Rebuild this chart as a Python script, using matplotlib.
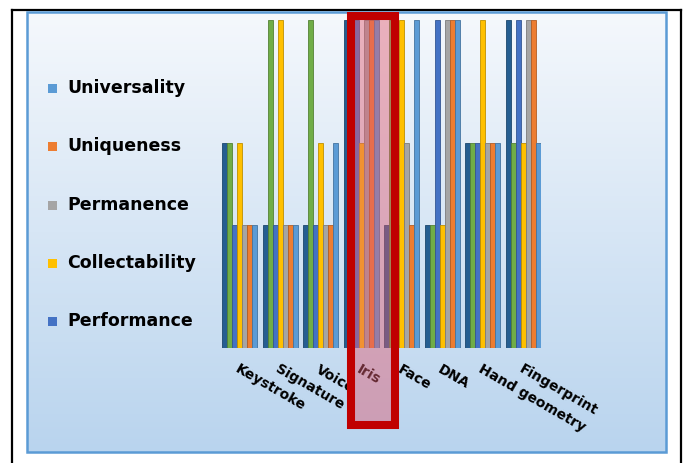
import matplotlib.pyplot as plt
import matplotlib.colors as mcolors
from matplotlib.patches import Rectangle
import numpy as np

W, H = 686, 463

categories = ["Keystroke", "Signature", "Voice", "Iris", "Face", "DNA",
              "Hand geometry", "Fingerprint"]

# rating levels: L / M / H
L, M, Hi = 3, 5, 8

# series in the order they sit inside each cluster (left to right)
series_names = ["Circumvention", "Acceptability", "Performance", "Collectability",
                "Permanence", "Uniqueness", "Universality"]
series_colors = ["#255E91", "#70AD47", "#4472C4", "#FFC000",
                 "#A5A5A5", "#ED7D31", "#5B9BD5"]

circumvention = [M, L, L, Hi, L, L, M, Hi]
acceptability = [M, Hi, Hi, L, Hi, L, M, M]
performance = [L, L, L, Hi, L, Hi, M, Hi]
collectability = [M, Hi, M, M, Hi, L, Hi, M]
permanence = [L, L, L, Hi, M, Hi, M, Hi]
uniqueness = [L, L, L, Hi, L, Hi, M, Hi]
universality = [L, L, M, Hi, Hi, Hi, M, M]

series_values = [circumvention, acceptability, performance, collectability,
                 permanence, uniqueness, universality]

# only the first five make it into the legend
legend_names = ["Universality", "Uniqueness", "Permanence", "Collectability", "Performance"]
legend_colors = ["#5B9BD5", "#ED7D31", "#A5A5A5", "#FFC000", "#4472C4"]

FONT = ["Liberation Sans Narrow", "DejaVu Sans"]


def fx(x):
    return x / W


def fy(y):
    return 1 - y / H


fig = plt.figure(figsize=(W / 100, H / 100), dpi=100)
fig.patch.set_facecolor("white")

# gradient background of the chart area
bg = fig.add_axes([fx(27), fy(452), fx(666) - fx(27), fy(12) - fy(452)])
top = np.array(mcolors.to_rgb("#F5F8FC"))
bot = np.array(mcolors.to_rgb("#B9D4EE"))
t = np.linspace(0, 1, 256)[:, None, None]
grad = top * (1 - t) + bot * t
bg.imshow(grad, aspect="auto", extent=[0, 1, 0, 1])
bg.set_axis_off()

# chart frame
fig.patches.append(Rectangle((fx(27), fy(452)), fx(666) - fx(27), fy(12) - fy(452),
                             transform=fig.transFigure, fill=False,
                             edgecolor="#5B9BD5", linewidth=1.8, zorder=5))

# bars
ax = fig.add_axes([fx(222), fy(348), fx(541) - fx(222), fy(20) - fy(348)])
ax.patch.set_alpha(0)
n = len(series_names)
bw = 0.125
x = np.arange(len(categories))
for i, (vals, col) in enumerate(zip(series_values, series_colors)):
    edge = np.array(mcolors.to_rgb(col)) * 0.75
    ax.bar(x - (n - 1) * bw / 2 + i * bw, vals, width=bw, color=col,
           edgecolor=edge, linewidth=0.6)
ax.set_xlim(-n * bw / 2, len(categories) - 1 + n * bw / 2)
ax.set_ylim(0, 8)
ax.set_axis_off()

# category labels, slanted
for xi, name in zip(x, categories):
    ax.text(xi, -0.35, name, transform=ax.transData,
            rotation=-30, rotation_mode="anchor", ha="left", va="top",
            fontsize=10, fontweight="bold", family=FONT,
            color="black", clip_on=False)

# legend
for k, (name, col) in enumerate(zip(legend_names, legend_colors)):
    yc = 88 + k * 58.3
    fig.patches.append(Rectangle((fx(48), fy(yc + 5)), fx(9), 9 / H,
                                 transform=fig.transFigure, facecolor=col,
                                 edgecolor="none"))
    fig.text(fx(67), fy(yc), name, ha="left", va="center", fontsize=12.5,
             fontweight="bold", family=FONT, color="black")

# highlight box over one category
fig.patches.append(Rectangle((fx(351), fy(425)), fx(395) - fx(351), fy(16) - fy(425),
                             transform=fig.transFigure, facecolor="#E05A70",
                             alpha=0.45, edgecolor="none", zorder=10))
fig.patches.append(Rectangle((fx(351), fy(425)), fx(395) - fx(351), fy(16) - fy(425),
                             transform=fig.transFigure, fill=False,
                             edgecolor="#C00000", linewidth=5.8, zorder=11))

# outer table cell lines
fig.lines.append(plt.Line2D([fx(12), fx(12)], [0, fy(10)], transform=fig.transFigure,
                            color="black", linewidth=1.6))
fig.lines.append(plt.Line2D([fx(681), fx(681)], [0, fy(10)], transform=fig.transFigure,
                            color="black", linewidth=1.6))
fig.lines.append(plt.Line2D([fx(12), fx(681)], [fy(10), fy(10)], transform=fig.transFigure,
                            color="black", linewidth=1.6))

fig.savefig("out.png", dpi=100)
